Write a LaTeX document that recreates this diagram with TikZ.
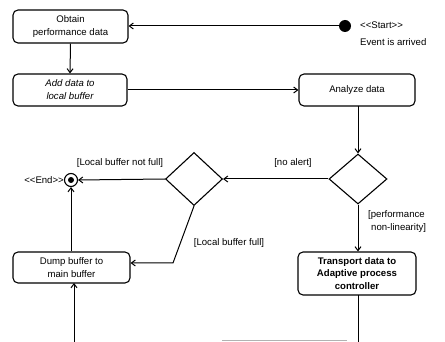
\documentclass[tikz,border=0pt]{standalone}
\usepackage{fontspec}
\setmainfont{Liberation Sans}
\usetikzlibrary{arrows.meta,shapes.geometric}
\newcommand{\lt}{<\kern0pt<}
\newcommand{\gt}{>\kern0pt>}
\begin{document}
\begin{tikzpicture}[x=1pt,y=-1pt,
  every node/.style={font=\fontsize{9.6}{13}\selectfont},
  act/.style={draw,line width=1.1pt,rounded corners=5pt,align=center,inner sep=1pt},
  dec/.style={draw,line width=1.1pt,diamond,inner sep=0pt},
  lbl/.style={inner sep=0pt},
  flow/.style={line width=1pt,-{Straight Barb[length=4pt,width=6pt,line width=1pt]}},
  plain/.style={line width=1pt}]
\useasboundingbox (0,0) rectangle (445,342);
% activities
\node[act,minimum width=115pt,minimum height=33pt] (obtain) at (70.5,26.5) {Obtain\\performance data};
\node[act,minimum width=114pt,minimum height=32pt] (add) at (70,90) {\itshape Add data to\\\itshape local buffer};
\node[act,minimum width=116pt,minimum height=32pt] (analyze) at (357,90) {Analyze data};
\node[act,minimum width=117pt,minimum height=31pt] (dump) at (71.5,267.5) {Dump buffer to\\main buffer};
\node[act,minimum width=118pt,minimum height=43pt,font=\fontsize{9.6}{12.5}\selectfont\bfseries] (transport) at (357,273.5) {Transport data to\\Adaptive process\\controller};
% decisions
\node[dec,minimum width=58pt,minimum height=50pt] (d1) at (358,179) {};
\node[dec,minimum width=57pt,minimum height=53pt] (d2) at (194,179) {};
% start / end
\node[circle,fill,inner sep=0pt,minimum size=12pt] (start) at (345,26) {};
\node[circle,draw,line width=1.1pt,inner sep=0pt,minimum size=13pt] (end) at (71,180) {};
\node[circle,fill,inner sep=0pt,minimum size=6pt] (endin) at (71,180) {};
% labels
\node[lbl,anchor=west] (lstart) at (360,25) {\lt Start\gt};
\node[lbl,anchor=west] (levent) at (360,42) {Event is arrived};
\node[lbl,anchor=east] (lend) at (64,180) {\lt End\gt};
\node[lbl] (lnotfull) at (120,163) {[Local buffer not full]};
\node[lbl] (lnoalert) at (293,163) {[no alert]};
\node[lbl] (lfull) at (229,243) {[Local buffer full]};
\node[lbl,anchor=west] (lperf1) at (368,215) {[performance};
\node[lbl,anchor=west] (lperf2) at (371,228) {non-linearity]};
% helper coordinates
\coordinate (bend) at (173,263);
\coordinate (dumpin) at (dump.east |- bend);
\coordinate (bot1) at (74,342);
\coordinate (dumpbot) at (74,283);
\coordinate (bot2) at (358,342);
\coordinate (tb) at (358,295);
\coordinate (g1) at (222,340);
\coordinate (g2) at (347,340);
% connectors
\draw[flow] (start) -- (obtain.east |- start);
\draw[flow] (obtain.south) -- (add.north);
\draw[flow] (add.east) -- (analyze.west |- add.east);
\draw[flow] (358,106) -- (d1.north);
\draw[flow] (d1.west) -- (d2.east);
\draw[flow] (d2.west) -- (end.east);
\draw[flow] (d2.south) -- (bend) -- (dumpin);
\draw[flow] (dump.north -| end) -- (end.south);
\draw[flow] (bot1) -- (dumpbot);
\draw[flow] (d1.south) -- (transport.north -| d1.south);
\draw[plain] (tb) -- (bot2);
\draw[gray!60,line width=1pt] (g1) -- (g2);
\end{tikzpicture}
\end{document}
